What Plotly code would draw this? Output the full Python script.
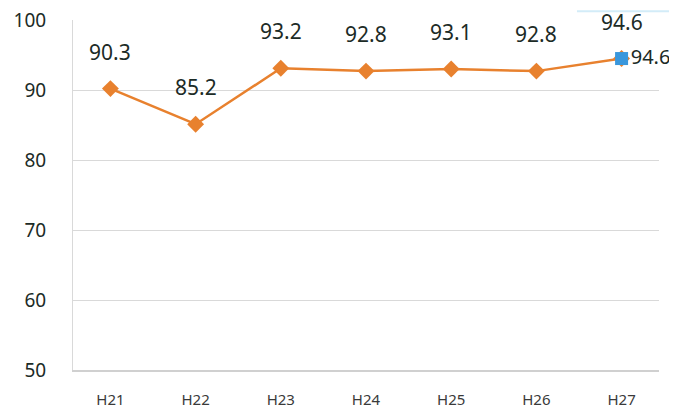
import plotly.graph_objects as go

categories = ["H21", "H22", "H23", "H24", "H25", "H26", "H27"]
values = [90.3, 85.2, 93.2, 92.8, 93.1, 92.8, 94.6]
highlight_category = ["H27"]
highlight_value = [94.6]
y_ticks = [50, 60, 70, 80, 90, 100]

LABEL_FONT = dict(size=21, color="#1c2b26", family="Noto Sans")

fig = go.Figure()
fig.add_trace(go.Scatter(
    x=categories, y=values, mode="lines+markers",
    line=dict(color="#E8812E", width=2.5),
    marker=dict(symbol="diamond", size=13, color="#E8812E"),
    cliponaxis=False, showlegend=False,
))
fig.add_trace(go.Scatter(
    x=highlight_category, y=highlight_value, mode="markers+text",
    marker=dict(symbol="square", size=13, color="#3A97DC"),
    text=[f"{v:.1f}" for v in highlight_value],
    textposition="middle right",
    textfont=dict(size=20, color="#1c2b26", family="Noto Sans"),
    cliponaxis=False, showlegend=False,
))
for c, v in zip(categories, values):
    fig.add_annotation(x=c, y=v, text=f"{v:.1f}", showarrow=False,
                       yshift=37, font=LABEL_FONT)

fig.add_shape(type="line", xref="paper", yref="paper", x0=0.86, x1=1.05, y0=1.025, y1=1.025,
              line=dict(color="#d3ecf8", width=2))

fig.update_layout(
    width=677, height=412,
    margin=dict(l=65, r=26, t=12, b=50, autoexpand=False),
    paper_bgcolor="white", plot_bgcolor="white",
    font=dict(family="Noto Sans", color="#1c2b26"),
)
fig.update_xaxes(
    type="category", showgrid=False, showline=True, linecolor="#d0d0d0", linewidth=1.5,
    ticks="", automargin=False,
    tickfont=dict(size=15, color="#3a3a3a"), ticklabelstandoff=15,
)
fig.update_yaxes(
    range=[50, 100.12], tickvals=y_ticks, showgrid=True, gridcolor="#d9d9d9", gridwidth=1,
    showline=True, linecolor="#d9d9d9", zeroline=False, automargin=False,
    ticklabeloverflow="allow",
    tickfont=dict(size=19, color="#1c2b26"), ticks="outside", ticklen=22, tickcolor="white",
)
fig.write_html("out.html")
